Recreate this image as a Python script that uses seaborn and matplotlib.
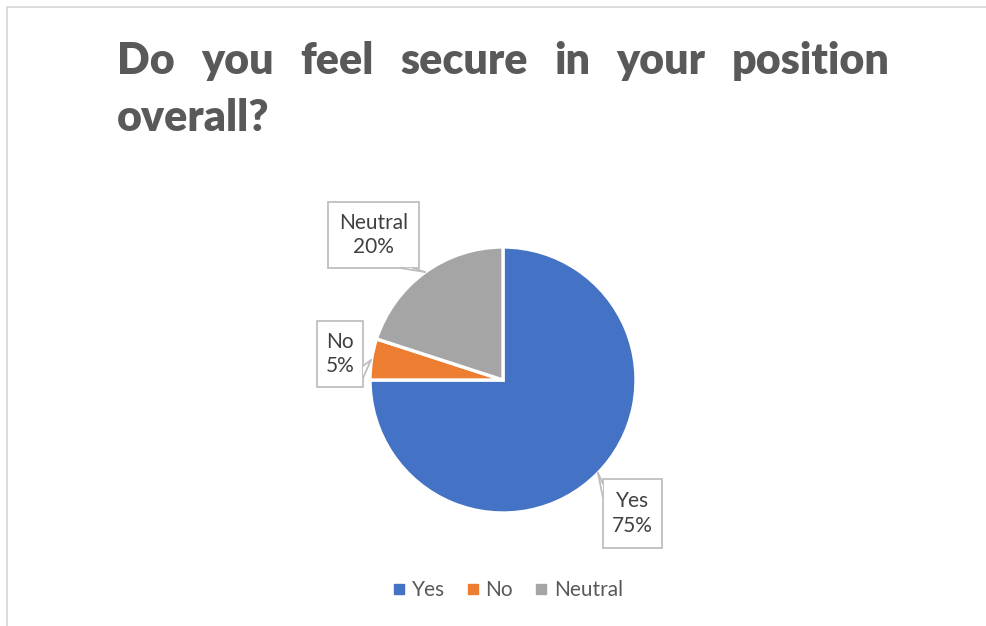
import matplotlib
matplotlib.use("Agg")
import matplotlib.pyplot as plt
from matplotlib.lines import Line2D
from matplotlib.patches import Rectangle, Polygon
import seaborn as sns

# Survey results
categories = ["Yes", "No", "Neutral"]
shares = [75, 5, 20]
title_line1 = ["Do", "you", "feel", "secure", "in", "your", "position"]
title_line2 = "overall?"

sns.set_theme(style="white")
plt.rcParams["font.family"] = ["Lato", "DejaVu Sans"]

colors = ["#4472C4", "#ED7D31", "#A5A5A5"]
W, H = 987, 626
fig = plt.figure(figsize=(W / 100, H / 100), dpi=100)
fig.patch.set_facecolor("white")

# Axes in pixel units (y measured from bottom)
ax = fig.add_axes([0, 0, 1, 1])
cx, cy, r = 503, H - 380, 133
wedges, _ = ax.pie(shares, colors=colors, startangle=90, counterclock=False,
                   center=(cx, cy), radius=r, frame=True,
                   wedgeprops=dict(edgecolor="white", linewidth=2.4))
ax.set_xlim(0, W)
ax.set_ylim(0, H)
ax.set_aspect("equal")
ax.axis("off")

# Callout boxes: (left, top, right, bottom) and pointer (base1, base2, tip), in px from top
callouts = {
    "Neutral": ((328, 202, 419, 268), ((400, 268), (413, 268), (425, 272))),
    "No": ((317, 321, 363, 387), ((363, 366), (363, 378), (371, 360))),
    "Yes": ((603, 479, 662, 548), ((603, 484), (603, 498), (598, 473))),
}
edge = "#BFBFBF"
for cat, val in zip(categories, shares):
    (l, t, rr, b), (b1, b2, tip) = callouts[cat]
    ax.add_patch(Rectangle((l, H - b), rr - l, b - t, fc="white", ec=edge, lw=1.3, zorder=3))
    pts = [(px, H - py) for px, py in (b1, tip, b2)]
    ax.add_patch(Polygon(pts, closed=True, fc="white", ec="none", zorder=4))
    for bp in (b1, b2):
        ax.add_line(Line2D([bp[0], tip[0]], [H - bp[1], H - tip[1]], color=edge,
                           lw=1.3, zorder=4))
    ax.text((l + rr) / 2, H - (t + b) / 2, f"{cat}\n{val}%", ha="center", va="center",
            fontsize=15, color="#404040", linespacing=1.3, zorder=5)

# Title, justified across the width
title_kw = dict(fontsize=31, fontweight="heavy", color="#595959", va="baseline", ha="left")
left_px, right_px = 117, 890
words = [fig.text(0, 1 - 74 / H, w, **title_kw) for w in title_line1]
fig.canvas.draw()
renderer = fig.canvas.get_renderer()
widths = [t.get_window_extent(renderer).width for t in words]
gap = (right_px - left_px - sum(widths)) / (len(words) - 1)
x = left_px
for t, w in zip(words, widths):
    t.set_x(x / W)
    x += w + gap
fig.text(left_px / W, 1 - 131 / H, title_line2, **title_kw)

# Legend
handles = [Line2D([], [], marker="s", linestyle="none", markersize=7.5,
                  markerfacecolor=c, markeredgecolor=c) for c in colors]
fig.legend(handles, categories, loc="center", bbox_to_anchor=(508 / W, 1 - 590 / H),
           ncol=3, frameon=False, fontsize=15, labelcolor="#595959",
           handletextpad=0.3, columnspacing=1.05, handlelength=0.6)

# Chart area border (top and left edges)
border = "#D9D9D9"
fig.add_artist(Line2D([7 / W, 1], [1 - 7 / H, 1 - 7 / H], color=border, lw=1.3,
                      transform=fig.transFigure))
fig.add_artist(Line2D([7 / W, 7 / W], [0, 1 - 7 / H], color=border, lw=1.3,
                      transform=fig.transFigure))

fig.savefig("out.png", dpi=100, facecolor="white")
